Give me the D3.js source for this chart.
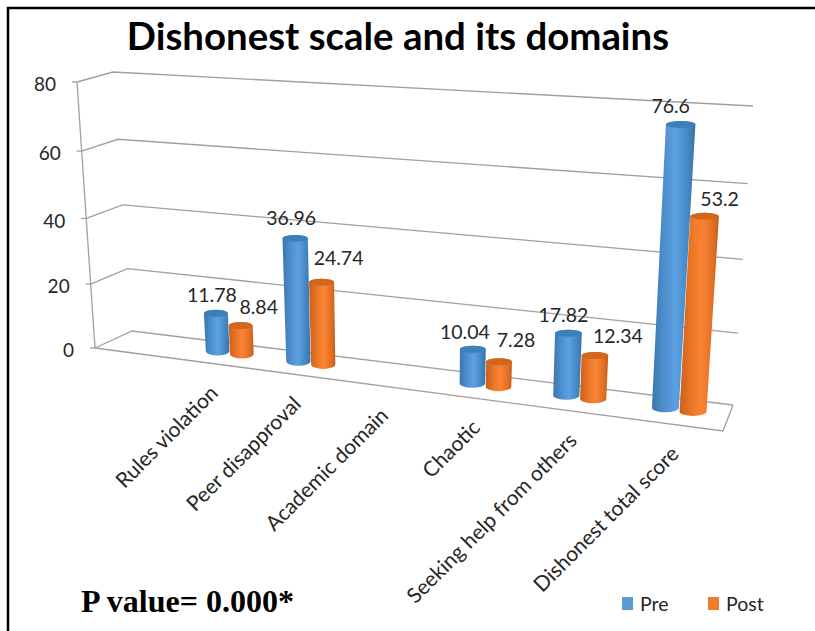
<!DOCTYPE html>
<html>
<head>
<meta charset="utf-8">
<style>
  html, body { margin: 0; padding: 0; background: #fff; }
  text { font-family: Lato, sans-serif; fill: #262626; }
</style>
<script src="https://cdn.jsdelivr.net/npm/d3@7"></script>
</head>
<body>
<div class="chart"></div>
<script>
var categories = ['Rules violation', 'Peer disapproval', 'Academic domain', 'Chaotic', 'Seeking help from others', 'Dishonest total score'];
var seriesNames = ['Pre', 'Post'];
var preValues = [11.78, 36.96, null, 10.04, 17.82, 76.6];
var postValues = [8.84, 24.74, null, 7.28, 12.34, 53.2];
var valueTicks = [0, 20, 40, 60, 80];
var seriesColors = ['#5b9bd5', '#ed7d31'];

var width = 815, height = 631;

// corners of the 3d box on screen, f = front, b = back, l/r, 0/80 = value
var floorFL = [95, 348], floorFR = [723, 431], floorBL = [132, 331], floorBR = [733, 405];
var riseFL = [-18, -266], riseFR = [20, -303], riseBL = [-19, -259], riseBR = [20, -299];

var svg = d3.select('.chart').append('svg')
  .attr('width', width)
  .attr('height', height)
  .style('display', 'block');

function lerp(a, b, t) { return a + (b - a) * t; }
function bilerp(fl, fr, bl, br, u, w, i) {
  return lerp(lerp(fl[i], fr[i], u), lerp(bl[i], br[i], u), w);
}

// perspective squeeze, k < 1 stretches the far end
function perspective(k) {
  return function(t) { return t * k / (1 + t * (k - 1)); };
}
var valueSqueeze = perspective(0.95);
var groupSqueeze = perspective(0.88);

var valueScale = d3.scaleLinear().domain([0, 80]).range([0, 1]);
var groupScale = d3.scalePoint().domain(categories).range([0, 1]);
var uScale = d3.scaleLinear().domain([0, 1]).range([0.185, 0.919]);

function groupU(cat) { return uScale(groupSqueeze(groupScale(cat))); }
function sizeFactor(u) { return 1 + (u - 0.185) / 0.734 * 0.14; }

function project(u, w, v) {
  var s = valueSqueeze(valueScale(v));
  return [
    bilerp(floorFL, floorFR, floorBL, floorBR, u, w, 0) + s * bilerp(riseFL, riseFR, riseBL, riseBR, u, w, 0),
    bilerp(floorFL, floorFR, floorBL, floorBR, u, w, 1) + s * bilerp(riseFL, riseFR, riseBL, riseBR, u, w, 1)
  ];
}

var line = d3.line();
var grid = svg.append('g').attr('fill', 'none').attr('stroke', '#a0a0a0').attr('stroke-width', 1.3);

// frame round the picture
svg.append('path')
  .attr('d', 'M8,631V8H815')
  .attr('fill', 'none').attr('stroke', '#000').attr('stroke-width', 2.5);

// gridlines on back wall and side wall
valueTicks.forEach(function(v) {
  grid.append('path').attr('d', line([project(0, 0, v), project(0, 1, v), project(1, 1, v)]));
  var p = project(0, 0, v);
  grid.append('path').attr('d', line([p, [p[0] - 5, p[1]]]));
});
grid.append('path').attr('d', line([project(0, 0, 0), project(0, 0, 80)]));
grid.append('path').attr('d', line([project(0, 0, 0), project(1, 0, 0), project(1, 1, 0)]));

// value axis labels
svg.append('g').selectAll('text').data(valueTicks).join('text')
  .attr('x', function(d) { return project(0, 0, d)[0] - 21; })
  .attr('y', function(d) { return project(0, 0, d)[1] + 2.5; })
  .attr('dy', '0.35em')
  .attr('text-anchor', 'end')
  .attr('font-size', 19)
  .text(function(d) { return d; });

// gradients for cylinders
var defs = svg.append('defs');
var gradStops = [
  [['#3c76ad', 0], ['#4f90cf', 0.3], ['#5ba1e2', 0.55], ['#4485c0', 0.85], ['#3a72a6', 1]],
  [['#c9601c', 0], ['#ea7628', 0.3], ['#fb8434', 0.55], ['#e06f24', 0.85], ['#c55d1b', 1]]
];
gradStops.forEach(function(stops, i) {
  var g = defs.append('linearGradient').attr('id', 'cyl' + i);
  stops.forEach(function(s) {
    g.append('stop').attr('offset', s[1]).attr('stop-color', s[0]);
  });
});
var capColors = ['#3e7fb9', '#d2661f'];
defs.append('filter').attr('id', 'soft')
  .append('feGaussianBlur').attr('stdDeviation', 0.5);

var barOffset = 0.0198, barRadius = 0.0192, floorSpan = 615, midDepth = 0.58;

var bars = [];
categories.forEach(function(cat, i) {
  [preValues, postValues].forEach(function(vals, s) {
    if (vals[i] == null) return;
    bars.push({ cat: cat, index: i, series: s, value: vals[i] });
  });
});

var barG = svg.append('g').attr('filter', 'url(#soft)');

bars.forEach(function(d) {
  var f = sizeFactor(groupU(d.cat));
  var u = groupU(d.cat) + (d.series === 0 ? -1 : 1) * barOffset * f;
  var base = project(u, midDepth, 0);
  var top = project(u, midDepth, d.value);
  d.top = top;
  var rBase = barRadius * f * floorSpan;
  var rTop = rBase * (1 + 0.1 * valueScale(d.value));
  var ryBase = 4.5, ryTop = 3.5;
  barG.append('path')
    .attr('d', 'M' + (top[0] - rTop) + ',' + top[1] +
      'L' + (base[0] - rBase) + ',' + base[1] +
      'A' + rBase + ',' + ryBase + ' 0 0 0 ' + (base[0] + rBase) + ',' + base[1] +
      'L' + (top[0] + rTop) + ',' + top[1] +
      'A' + rTop + ',' + ryTop + ' 0 0 0 ' + (top[0] - rTop) + ',' + top[1] + 'Z')
    .attr('fill', 'url(#cyl' + d.series + ')');
  barG.append('ellipse')
    .attr('cx', top[0]).attr('cy', top[1])
    .attr('rx', rTop).attr('ry', ryTop)
    .attr('fill', capColors[d.series]);
});

// data labels sit next to the bar top, nudged like the hand placed originals
var labelNudge = [
  [[-4, -18], [18, -18]],
  [[-4, -20], [17, -24]],
  [null, null],
  [[-8, -17], [17, -22]],
  [[-5, -18], [23, -19]],
  [[-10, -18], [15, -17]]
];
svg.append('g').selectAll('text').data(bars).join('text')
  .attr('x', function(d) { return d.top[0] + labelNudge[d.index][d.series][0]; })
  .attr('y', function(d) { return d.top[1] + labelNudge[d.index][d.series][1]; })
  .attr('dy', '0.35em')
  .attr('text-anchor', 'middle')
  .attr('font-size', 19.5)
  .text(function(d) { return d.value; });

// category labels along the front edge
svg.append('g').selectAll('text').data(categories).join('text')
  .attr('transform', function(d) {
    var p = project(groupU(d), 0, 0);
    return 'translate(' + (p[0] + 8) + ',' + (p[1] + 31) + ') rotate(-45)';
  })
  .attr('text-anchor', 'end')
  .attr('font-size', 21)
  .text(function(d) { return d; });

// title
svg.append('text')
  .attr('x', 398).attr('y', 50)
  .attr('text-anchor', 'middle')
  .attr('font-size', 38.4)
  .attr('font-weight', 700)
  .style('fill', '#000')
  .text('Dishonest scale and its domains');

// p value note
svg.append('text')
  .attr('x', 81).attr('y', 612)
  .attr('font-size', 32)
  .attr('font-weight', 700)
  .style('font-family', '"Liberation Serif", serif')
  .style('fill', '#000')
  .text('P value= 0.000*');

// legend
var legendX = d3.scaleOrdinal().domain(seriesNames).range([622, 708]);
var legend = svg.append('g').selectAll('g').data(seriesNames).join('g')
  .attr('transform', function(d) { return 'translate(' + legendX(d) + ',597)'; });
legend.append('rect')
  .attr('width', 11).attr('height', 13)
  .attr('fill', function(d, i) { return seriesColors[i]; });
legend.append('text')
  .attr('x', 18).attr('y', 14)
  .attr('font-size', 19.5)
  .text(function(d) { return d; });
</script>
</body>
</html>
